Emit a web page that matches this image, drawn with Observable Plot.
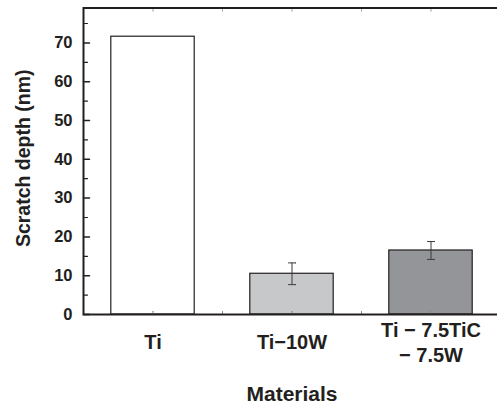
<!DOCTYPE html>
<html><head><meta charset="utf-8">
<script src="https://cdn.jsdelivr.net/npm/d3@7"></script>
<script src="https://cdn.jsdelivr.net/npm/@observablehq/plot@0.6"></script>
<style>html,body{margin:0;padding:0;background:#fff;overflow:hidden}</style>
</head><body><div id="chart"></div>
<script>
const categories = ["Ti", "Ti\u221210W", "Ti \u2212 7.5TiC\n\u2212 7.5W"];
const depths = [71.6, 10.5, 16.5];
const errors = [null, 2.8, 2.3];
const fills = ["#ffffff", "#c7c8ca", "#939598"];
const yTickValues = [0, 10, 20, 30, 40, 50, 60, 70];
const yMinorTickValues = [5, 15, 25, 35, 45, 55, 65, 75];
const xTickValues = [0, 0.5, 1, 1.5, 2];
const yLabel = "Scratch depth (nm)";
const xLabel = "Materials";

const rows = categories.map((c, i) => ({i, c, v: depths[i], e: errors[i], fill: fills[i]}));
const errRows = rows.filter(d => d.e != null);
const ink = "#231f20";
const font = "'Liberation Sans', Arial, Helvetica, sans-serif";
const half = 0.3;

const plot = Plot.plot({
  width: 497, height: 405,
  marginLeft: 83, marginRight: -3, marginTop: 7.5, marginBottom: 91,
  style: {fontFamily: font, color: ink, background: "#fff"},
  x: {type: "linear", domain: [-0.5, 2.5], axis: null},
  y: {domain: [0, 79]},
  color: {type: "identity"},
  marks: [
    Plot.rectY(rows, {x1: d => d.i - half, x2: d => d.i + half, y1: 0, y2: "v", fill: "fill", stroke: ink, strokeWidth: 1.2}),
    Plot.ruleX(errRows, {x: "i", y1: d => d.v - d.e, y2: d => d.v + d.e, stroke: "#3a3a3a", strokeWidth: 1}),
    Plot.vector(errRows, {x: "i", y: d => d.v - d.e, rotate: 90, length: 7, anchor: "middle", r: 0, stroke: "#3a3a3a", strokeWidth: 1}),
    Plot.vector(errRows, {x: "i", y: d => d.v + d.e, rotate: 90, length: 7, anchor: "middle", r: 0, stroke: "#3a3a3a", strokeWidth: 1}),
    Plot.vector(yTickValues, {y: d => d, frameAnchor: "left", rotate: 90, length: 6, anchor: "start", r: 0, stroke: ink, strokeWidth: 1.5}),
    Plot.vector(yMinorTickValues, {y: d => d, frameAnchor: "left", rotate: 90, length: 4, anchor: "start", r: 0, stroke: ink, strokeWidth: 1.2}),
    Plot.vector(xTickValues, {x: d => d, frameAnchor: "bottom", rotate: 0, length: 3, anchor: "start", r: 0, stroke: "#888", strokeWidth: 1}),
    Plot.vector(xTickValues, {x: d => d, frameAnchor: "top", rotate: 180, length: 3, anchor: "start", r: 0, stroke: "#aaa", strokeWidth: 1}),
    Plot.frame({stroke: ink, strokeWidth: 2}),
    Plot.axisY(yTickValues, {tickSize: 0, tickPadding: 11, fontSize: 16.5, fontWeight: "bold", fill: ink, label: null}),
    Plot.text(categories, {x: (d, i) => i, text: d => d, frameAnchor: "bottom", dy: 26.5, textAnchor: "middle", lineAnchor: "middle", lineHeight: 1.25, fontSize: 20, fontWeight: "bold", fill: ink}),
    Plot.text([yLabel], {text: d => d, frameAnchor: "left", rotate: -90, dx: -60, dy: -3, textAnchor: "middle", lineAnchor: "middle", fontSize: 19.5, fontWeight: "bold", fill: ink}),
    Plot.text([xLabel], {text: d => d, frameAnchor: "bottom", dy: 79.5, textAnchor: "middle", lineAnchor: "middle", fontSize: 21, fontWeight: "bold", fill: ink})
  ]
});
document.getElementById("chart").appendChild(plot);
</script>
</body></html>
